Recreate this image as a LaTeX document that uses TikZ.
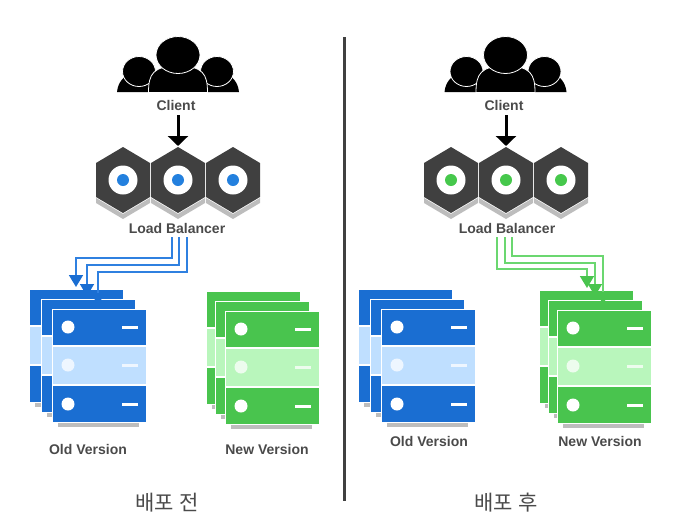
\documentclass[tikz,border=0pt]{standalone}
\usepackage{fontspec}
\setmainfont{Liberation Sans}
\newfontfamily\krfont{Noto Sans CJK KR}
\usetikzlibrary{arrows.meta}
\definecolor{blueD}{HTML}{1A6ED2}
\definecolor{blueL}{HTML}{BFDFFF}
\definecolor{blueLine}{HTML}{2F80E0}
\definecolor{greenD}{HTML}{49C44E}
\definecolor{greenL}{HTML}{B9F6BC}
\definecolor{greenLine}{HTML}{6BD770}
\definecolor{hexDark}{HTML}{404040}
\definecolor{shadowGray}{HTML}{BDBDBD}
\definecolor{textGray}{HTML}{4A4A4A}
\definecolor{dotBlue}{HTML}{2380DE}
\definecolor{dotGreen}{HTML}{46C84C}
\tikzset{
  lbl/.style={font=\fontsize{14}{16}\selectfont\bfseries,text=textGray,inner sep=0pt},
  caption/.style={font=\krfont\fontsize{21}{25}\selectfont,text=textGray,inner sep=0pt},
  flowB/.style={line width=1.8pt,blueLine,-{Triangle[length=12pt,width=14pt,color=blueD]}},
  flowG/.style={line width=1.8pt,greenLine,-{Triangle[length=12pt,width=14pt,color=greenD]}},
  down/.style={black,line width=3pt,-{Triangle[length=10pt,width=20pt]}},
  cut/.style={draw=white,line width=1pt}
}
% #1 centre x, #2 dot colour
\newcommand{\hexa}[2]{%
  \fill[shadowGray] (#1-27,198) -- (#1,214) -- (#1+27,198) -- (#1+27,203) -- (#1,219) -- (#1-27,203) -- cycle;
  \fill[hexDark] (#1,147) -- (#1+27,163) -- (#1+27,197) -- (#1,213) -- (#1-27,197) -- (#1-27,163) -- cycle;
  \fill[white] (#1,180) circle (14.5);
  \fill[#2] (#1,180) circle (6);
}
% #1 left x, #2 top y, #3 dark, #4 light
\newcommand{\serverback}[4]{%
  \fill[shadowGray] (#1+6,#2+113) rectangle (#1+87,#2+118);
  \fill[#3,cut] (#1,#2) rectangle (#1+94,#2+36);
  \fill[#4,cut] (#1,#2+37) rectangle (#1+94,#2+75);
  \fill[#3,cut] (#1,#2+76) rectangle (#1+94,#2+113);
}
\newcommand{\serverfront}[4]{%
  \serverback{#1}{#2}{#3}{#4}
  \fill[white] (#1+16,#2+18) circle (6.5);
  \fill[white] (#1+70,#2+16.5) rectangle (#1+86,#2+20);
  \fill[white,opacity=.75] (#1+16,#2+56) circle (6.5);
  \fill[white,opacity=.75] (#1+70,#2+54.5) rectangle (#1+86,#2+58);
  \fill[white] (#1+16,#2+95) circle (6.5);
  \fill[white] (#1+70,#2+93.5) rectangle (#1+86,#2+97);
}
\newcommand{\people}[1]{%
  \foreach \s in {-1,1}{
    \fill[black] (#1+\s*8,92) -- (#1+\s*8,74) -- (#1+\s*48,74) .. controls (#1+\s*54,76) and (#1+\s*60,82) .. (#1+\s*61,92) -- cycle;
    \fill[black,draw=white,line width=.8pt] (#1+\s*39,71.5) ellipse (16.5 and 15);
  }
  \fill[black,draw=white,line width=.8pt] (#1-29.5,92.5) .. controls (#1-29.5,74) and (#1-25,66) .. (#1,66) .. controls (#1+25,66) and (#1+29.5,74) .. (#1+29.5,92.5) -- cycle;
  \fill[black,draw=white,line width=.8pt] (#1,55) ellipse (22 and 18.5);
}
\begin{document}
\begin{tikzpicture}[x=1pt,y=-1pt]
\useasboundingbox (0,0) rectangle (675,531);
% divider
\coordinate (divT) at (344,37);
\coordinate (divB) at (344,501);
\draw[line width=3pt,color=hexDark] (divT) -- (divB);
% left panel
\people{178}
\people{505.5}
\node[lbl] (clientL) at (176,105) {Client};
\node[lbl] (clientR) at (504,105) {Client};
\hexa{123}{dotBlue}\hexa{178}{dotBlue}\hexa{233}{dotBlue}
\hexa{451}{dotGreen}\hexa{506}{dotGreen}\hexa{561}{dotGreen}
\coordinate (hexL) at (178,146);
\coordinate (hexR) at (506,146);
\node[lbl] (lbL) at (177,228) {Load Balancer};
\node[lbl] (lbR) at (507,228) {Load Balancer};
\draw[down] (clientL.south -| hexL) ++(0,5) coordinate (cl) (cl) -- (hexL);
\draw[down] (clientR.south -| hexR) ++(0,5) coordinate (cr) (cr) -- (hexR);
% servers
\serverback{29}{289}{blueD}{blueL}\serverback{41}{299}{blueD}{blueL}\serverfront{52}{309}{blueD}{blueL}
\serverback{206}{291}{greenD}{greenL}\serverback{215}{301}{greenD}{greenL}\serverfront{225}{311}{greenD}{greenL}
\serverback{358}{289}{blueD}{blueL}\serverback{370}{299}{blueD}{blueL}\serverfront{381}{309}{blueD}{blueL}
\serverback{539}{290}{greenD}{greenL}\serverback{548}{300}{greenD}{greenL}\serverfront{557}{310}{greenD}{greenL}
% connectors left
\coordinate (bs1) at (172,237); \coordinate (be1) at (76,287);
\coordinate (bs2) at (179,237); \coordinate (be2) at (87,296);
\coordinate (bs3) at (187,237); \coordinate (be3) at (98,305);
\draw[flowB] (bs1) -- (172,258) -- (76,258) -- (be1);
\draw[flowB] (bs2) -- (179,265) -- (87,265) -- (be2);
\draw[flowB] (bs3) -- (187,272) -- (98,272) -- (be3);
% connectors right
\coordinate (gs1) at (497,237); \coordinate (ge1) at (587,288);
\coordinate (gs2) at (505,237); \coordinate (ge2) at (595,296);
\coordinate (gs3) at (512,237); \coordinate (ge3) at (603,304);
\draw[flowG] (gs1) -- (497,269) -- (587,269) -- (ge1);
\draw[flowG] (gs2) -- (505,263) -- (595,263) -- (ge2);
\draw[flowG] (gs3) -- (512,256) -- (603,256) -- (ge3);
% labels
\node[lbl] (oldL) at (88,449) {Old Version};
\node[lbl] (newL) at (267,449) {New Version};
\node[lbl] (oldR) at (429,441) {Old Version};
\node[lbl] (newR) at (600,441) {New Version};
\node[caption] (capL) at (167,503) {배포 전};
\node[caption] (capR) at (506,503) {배포 후};
\end{tikzpicture}
\end{document}
